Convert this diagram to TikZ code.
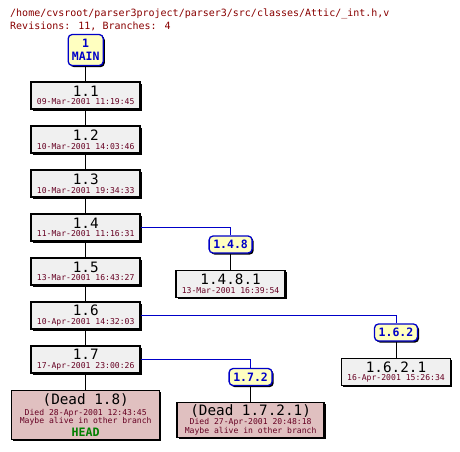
\documentclass[tikz,border=0pt]{standalone}
\usepackage{fontspec}
\setmainfont{DejaVu Sans Mono}
\usetikzlibrary{shadows}
\definecolor{titlered}{RGB}{136,0,0}
\definecolor{datered}{RGB}{102,0,34}
\definecolor{revgray}{RGB}{240,240,240}
\definecolor{deadpink}{RGB}{224,192,192}
\definecolor{tagyellow}{RGB}{255,255,192}
\definecolor{tagblue}{RGB}{0,0,200}
\definecolor{headgreen}{RGB}{0,128,0}
\newcommand\verfont{\fontsize{14.3}{15}\selectfont}
\newcommand\datefont{\fontsize{8.1}{8.6}\selectfont}
\newcommand\headfont{\bfseries\fontsize{11.6}{12}\selectfont\color{headgreen}}
\tikzset{box/.style={draw=black,line width=1.5pt,align=center,inner sep=0pt,font=\datefont,text=datered,drop shadow={shadow xshift=1.6pt,shadow yshift=-1.6pt,fill=black,opacity=1}},rev/.style={box,fill=revgray,minimum width=109pt,minimum height=27pt},dead/.style={box,fill=deadpink},tag/.style={draw=tagblue,line width=1.3pt,rounded corners=4pt,fill=tagyellow,text=tagblue,align=center,inner sep=0pt,minimum width=43pt,minimum height=17pt,font=\bfseries\fontsize{11.5}{12.7}\selectfont,drop shadow={shadow xshift=1.6pt,shadow yshift=-1.6pt,fill=black,opacity=1}},trunk/.style={black,line width=1pt},branch/.style={tagblue,line width=1pt},ttl/.style={anchor=base west,inner sep=0pt,text=titlered,font=\fontsize{10}{10}\selectfont}}

\begin{document}
\begin{tikzpicture}[x=1pt,y=-1pt]
\useasboundingbox (0,0) rectangle (460,451);
\node[ttl] (path) at (10,16.5) {/home/cvsroot/parser3project/parser3/src/classes/Attic/\_int.h,v};
\node[ttl] (stats) at (10,29) {Revisions: 11, Branches: 4};
\node[tag,minimum width=35pt,minimum height=31pt] (main) at (85.7,50) {1\\MAIN};
\foreach \k/\d in {1/09-Mar-2001 11:19:45,2/10-Mar-2001 14:03:46,3/10-Mar-2001 19:34:33,4/11-Mar-2001 11:16:31,5/13-Mar-2001 16:43:27,6/10-Apr-2001 14:32:03,7/17-Apr-2001 23:00:26}{
\node[rev] (r\k) at (85.7,{95.5+44*(\k-1)}) {{\verfont\color{black}1.\k}\\\d};
}
\node[dead,minimum width=148pt,minimum height=49pt] (d18) at (85.7,415) {{\verfont\color{black}(Dead 1.8)}\\[2.5pt]Died 28-Apr-2001 12:43:45\\Maybe alive in other branch\\[1.5pt]{\headfont HEAD}};
% branches
\node[tag] (t148) at (230.6,244.5) {1.4.8};
\node[rev] (r1481) at (230.6,284) {{\verfont\color{black}1.4.8.1}\\13-Mar-2001 16:39:54};
\node[tag] (t162) at (396,332.5) {1.6.2};
\node[rev] (r1621) at (396,372) {{\verfont\color{black}1.6.2.1}\\16-Apr-2001 15:26:34};
\node[tag] (t172) at (250.6,377) {1.7.2};
\node[dead,minimum width=147pt,minimum height=35pt] (d1721) at (250.6,420) {{\verfont\color{black}(Dead 1.7.2.1)}\\[0.5pt]Died 27-Apr-2001 20:48:18\\Maybe alive in other branch};
\draw[trunk] (main) -- (r1);
\foreach \k [count=\n from 2] in {1,...,6}{\draw[trunk] (r\k) -- (r\n);}
\draw[trunk] (r7) -- (d18);
\draw[branch] (r4.east) -| (t148.north);
\draw[branch] (r6.east) -| (t162.north);
\draw[branch] (r7.east) -| (t172.north);
\draw[trunk] (t148) -- (r1481);
\draw[trunk] (t162) -- (r1621);
\draw[trunk] (t172) -- (d1721);
\end{tikzpicture}
\end{document}
